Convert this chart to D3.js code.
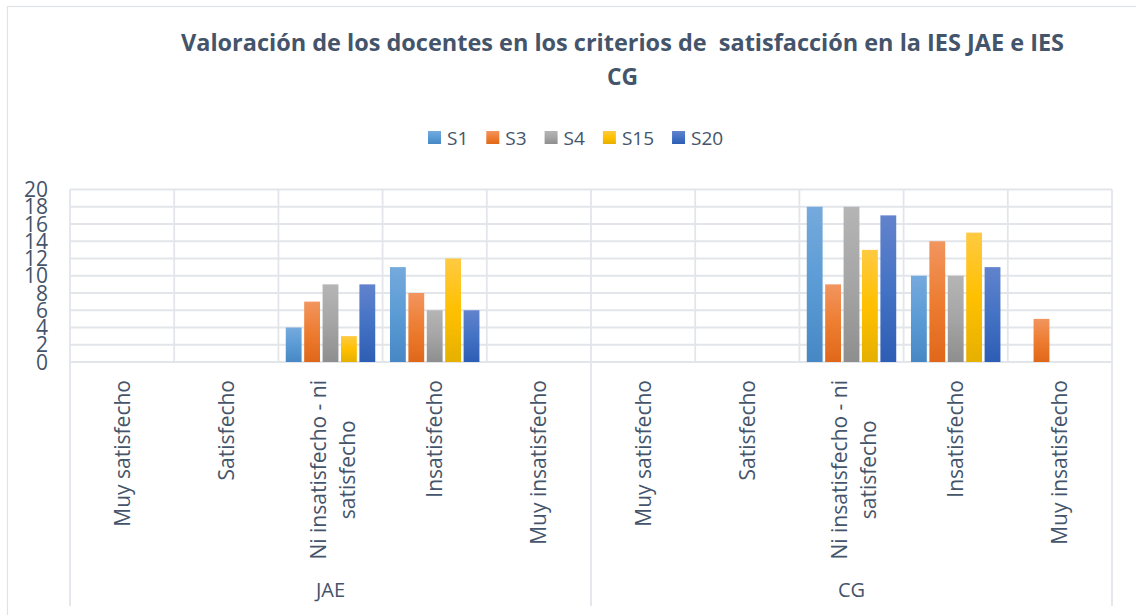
<!DOCTYPE html>
<html>
<head>
<meta charset="utf-8">
<script src="https://cdn.jsdelivr.net/npm/d3@7"></script>
<style>
  html, body { margin: 0; padding: 0; background: #ffffff; }
  svg { display: block; font-family: "Open Sans", "Noto Sans", sans-serif; }
</style>
</head>
<body>
<svg id="chart" width="1136" height="615"></svg>
<script>
// ---- data ----
const titleLines = ["Valoración de los docentes en los criterios de  satisfacción en la IES JAE e IES", "CG"];
const groups = ["JAE", "CG"];
const categories = ["Muy satisfecho", "Satisfecho", "Ni insatisfecho - ni satisfecho", "Insatisfecho", "Muy insatisfecho"];
const categoryLines = [["Muy satisfecho"], ["Satisfecho"], ["Ni insatisfecho - ni", "satisfecho"], ["Insatisfecho"], ["Muy insatisfecho"]];
const series = ["S1", "S3", "S4", "S15", "S20"];
// values per series, order: JAE (5 categories) then CG (5 categories)
const S1  = [0, 0, 4, 11, 0,   0, 0, 18, 10, 0];
const S3  = [0, 0, 7,  8, 0,   0, 0,  9, 14, 5];
const S4  = [0, 0, 9,  6, 0,   0, 0, 18, 10, 0];
const S15 = [0, 0, 3, 12, 0,   0, 0, 13, 15, 0];
const S20 = [0, 0, 9,  6, 0,   0, 0, 17, 11, 0];
const yTicks = [0, 2, 4, 6, 8, 10, 12, 14, 16, 18, 20];
const seriesColors = {
  S1:  ["#75aadd", "#5b9bd5", "#4787c4"],
  S3:  ["#f2955f", "#ed7d31", "#e0671a"],
  S4:  ["#b5b5b5", "#a5a5a5", "#8e8e8e"],
  S15: ["#ffca42", "#ffc000", "#e6b000"],
  S20: ["#6283cd", "#4472c4", "#2d5db4"]
};
const seriesValues = { S1, S3, S4, S15, S20 };

// ---- layout ----
const textColor = "#44546a";
const gridColor = "#e2e5ea";
const plotLeft = 70, plotRight = 1112, plotTop = 189.5, plotBottom = 362, labelBottom = 606;

const svg = d3.select("#chart");

// chart border
svg.append("rect").attr("x", 7.5).attr("y", 6.5).attr("width", 1300).attr("height", 800)
  .attr("fill", "none").attr("stroke", "#dfe3e8").attr("stroke-width", 1.2);

// gradients
const defs = svg.append("defs");
series.forEach(s => {
  const g = defs.append("linearGradient").attr("id", "grad-" + s)
    .attr("x1", 0).attr("y1", 0).attr("x2", 0).attr("y2", 1);
  g.append("stop").attr("offset", "0%").attr("stop-color", seriesColors[s][0]);
  g.append("stop").attr("offset", "50%").attr("stop-color", seriesColors[s][1]);
  g.append("stop").attr("offset", "100%").attr("stop-color", seriesColors[s][2]);
});

// scales
const keys = [];
groups.forEach(g => categories.forEach(c => keys.push(g + "|" + c)));
const x0 = d3.scaleBand().domain(keys).range([plotLeft, plotRight]).padding(0);
const x1 = d3.scaleBand().domain(series).range([0, x0.bandwidth()]).paddingInner(0.14).paddingOuter(0.4);
const y = d3.scaleLinear().domain([0, 20]).range([plotBottom, plotTop]);
const xg = d3.scaleBand().domain(groups).range([plotLeft, plotRight]).padding(0);

// horizontal gridlines
svg.append("g").selectAll("line").data(yTicks).join("line")
  .attr("x1", plotLeft).attr("x2", plotRight)
  .attr("y1", d => y(d)).attr("y2", d => y(d))
  .attr("stroke", gridColor).attr("stroke-width", 1.8);

// vertical category lines in plot
const bounds = keys.map(k => x0(k)).concat([plotRight]);
svg.append("g").selectAll("line").data(bounds).join("line")
  .attr("x1", d => d).attr("x2", d => d)
  .attr("y1", plotTop).attr("y2", plotBottom)
  .attr("stroke", gridColor).attr("stroke-width", 1.8);

// group boundary lines through label area
const gBounds = groups.map(g => xg(g)).concat([plotRight]);
svg.append("g").selectAll("line").data(gBounds).join("line")
  .attr("x1", d => d).attr("x2", d => d)
  .attr("y1", plotBottom).attr("y2", labelBottom)
  .attr("stroke", gridColor).attr("stroke-width", 1.8);

// bars
const barData = [];
keys.forEach((k, i) => series.forEach(s => barData.push({ key: k, s, v: seriesValues[s][i] })));
svg.append("g").selectAll("rect").data(barData.filter(d => d.v > 0)).join("rect")
  .attr("x", d => x0(d.key) + x1(d.s))
  .attr("width", x1.bandwidth())
  .attr("y", d => y(d.v))
  .attr("height", d => y(0) - y(d.v))
  .attr("fill", d => "url(#grad-" + d.s + ")");

// y axis tick labels
svg.append("g").selectAll("text").data(yTicks).join("text")
  .attr("x", 48).attr("y", d => y(d)).attr("dy", "0.36em")
  .attr("text-anchor", "end").attr("font-size", 21).attr("fill", textColor)
  .text(d => d);

// category labels (rotated)
const labelTop = 380;
const catG = svg.append("g");
keys.forEach((k, i) => {
  const lines = categoryLines[i % categories.length];
  const cx = x0(k) + x0.bandwidth() / 2;
  const g = catG.append("g").attr("transform", `translate(${cx},${labelTop}) rotate(-90)`);
  const texts = lines.map(l => g.append("text").attr("font-size", 21).attr("fill", textColor).text(l));
  const L = d3.max(texts, t => t.node().getComputedTextLength());
  const offsets = lines.length === 1 ? [7.5] : [-5, 24];
  texts.forEach((t, j) => t.attr("text-anchor", "middle").attr("x", -L / 2).attr("y", offsets[j]));
});

// group labels
svg.append("g").selectAll("text").data(groups).join("text")
  .attr("x", d => xg(d) + xg.bandwidth() / 2).attr("y", 597)
  .attr("text-anchor", "middle").attr("font-size", 20).attr("fill", textColor)
  .text(d => d);

// title
const titleX = 622.5;
svg.append("text").attr("x", titleX).attr("y", 51)
  .attr("text-anchor", "middle").attr("font-size", 23).attr("font-weight", "bold")
  .attr("fill", textColor).attr("textLength", 883).attr("lengthAdjust", "spacingAndGlyphs")
  .style("white-space", "pre")
  .text(titleLines[0]);
svg.append("text").attr("x", titleX).attr("y", 85)
  .attr("text-anchor", "middle").attr("font-size", 23).attr("font-weight", "bold")
  .attr("fill", textColor).attr("textLength", 31).attr("lengthAdjust", "spacingAndGlyphs")
  .text(titleLines[1]);

// legend
const legend = svg.append("g");
let lx = 0;
series.forEach(s => {
  const item = legend.append("g");
  item.append("rect").attr("x", 0).attr("y", 131).attr("width", 13).attr("height", 13)
    .attr("fill", "url(#grad-" + s + ")");
  const t = item.append("text").attr("x", 19).attr("y", 144.5)
    .attr("font-size", 19).attr("fill", textColor).text(s);
  const w = 19 + t.node().getComputedTextLength();
  item.attr("transform", `translate(${lx},0)`);
  lx += w + 18;
});
legend.attr("transform", `translate(428,0)`);
</script>
</body>
</html>
